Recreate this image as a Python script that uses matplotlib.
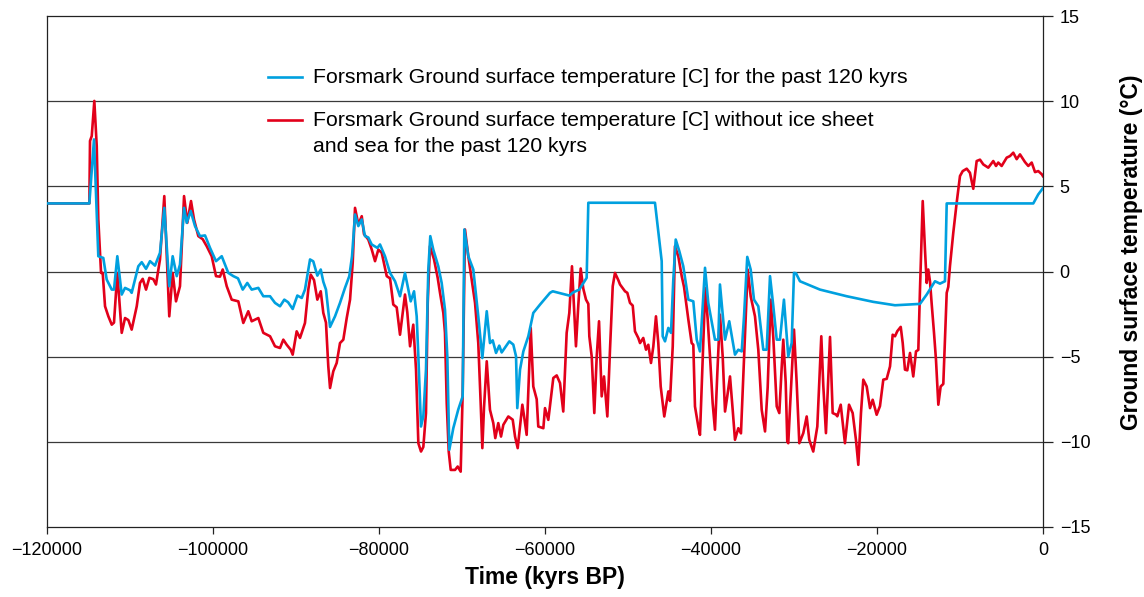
import matplotlib
matplotlib.use("Agg")
import matplotlib.pyplot as plt

# time (years BP, negative = past) and ground surface temperature [C]
# blue: with ice sheet and sea
time_gst = [-120000, -114900, -114340, -113820, -113220, -112810, -112200, -111930, -111530, -111000,
            -110600, -110000, -109800, -109000, -108590, -108070, -107590, -106990, -106390, -105870,
            -105270, -104860, -104370, -103980, -103490, -103170, -102690, -102170, -101570, -100960,
            -100360, -99640, -98950, -98160, -97550, -96990, -96420, -95870, -95340, -94540,
            -93940, -93130, -92530, -91930, -91410, -90960, -90400, -89840, -89310, -88920,
            -88310, -87920, -87430, -87020, -86710, -86390, -85900, -85300, -84700, -84100,
            -83580, -83250, -82890, -82490, -82080, -81690, -81290, -80880, -80200, -79880,
            -79280, -78670, -78070, -77470, -76870, -76470, -76180, -75780, -75460, -75260,
            -74940, -74660, -74340, -74060, -73820, -73460, -72860, -72450, -72050, -71770,
            -71530, -71050, -70450, -69920, -69720, -69240, -68640, -68040, -67550, -67020,
            -66630, -66300, -65900, -65510, -65220, -64300, -63820, -63490, -63340, -63010,
            -62610, -62010, -61410, -60600, -59400, -59070, -57070, -56590, -55870, -54980,
            -54780, -46750, -45940, -45820, -45540, -45140, -44820, -44540, -44250, -43820,
            -43340, -42730, -42130, -41720, -41330, -40720, -40330, -39520, -39120, -38920,
            -38310, -37800, -37110, -36710, -36300, -36020, -35630, -35220, -34820, -34300,
            -33700, -33290, -32890, -32490, -32080, -31690, -31210, -30690, -30280, -30000,
            -29760, -29280, -26870, -23650, -20450, -17830, -14820, -14010, -13010, -12410,
            -11810, -11600, -1170, -570, 0]
temp_gst = [4.0, 4.0, 7.76, 0.9, 0.8, -0.47, -1.06, -1.06, 0.9, -1.35,
            -0.96, -1.1, -1.25, 0.31, 0.55, 0.16, 0.61, 0.35, 1.1, 3.74,
            -0.86, 0.9, -0.27, 0.41, 3.74, 2.86, 3.55, 2.67, 2.08, 2.12,
            1.39, 0.61, 0.9, -0.08, -0.27, -0.4, -1.06, -0.67, -1.06, -0.96,
            -1.45, -1.45, -1.84, -2.04, -1.65, -1.8, -2.2, -1.41, -1.55, -1.06,
            0.71, 0.6, -0.24, 0.12, -0.6, -1.06, -3.25, -2.63, -1.84, -0.96,
            -0.27, 0.9, 3.35, 2.67, 3.06, 2.08, 2.0, 1.59, 1.39, 1.59,
            0.9, -0.08, -0.57, -1.45, -0.08, -1.06, -1.75, -1.16, -2.63, -4.98,
            -9.1, -8.5, -5.76, 0.12, 2.08, 1.29, 0.31, -0.67, -2.24, -4.98,
            -10.47, -9.2, -8.1, -7.33, 2.47, 0.9, 0.12, -2.63, -5.08, -2.33,
            -4.2, -4.04, -4.78, -4.35, -4.75, -4.1, -4.29, -4.98, -8.02, -5.76,
            -4.69, -3.8, -2.43, -1.94, -1.25, -1.16, -1.41, -1.22, -1.06, -0.37,
            4.04, 4.04, 0.61, -3.8, -4.1, -3.31, -3.6, -0.47, 1.88, 1.2,
            0.31, -1.65, -1.75, -4.0, -4.69, 0.22, -1.84, -4.0, -4.0, -0.76,
            -4.0, -2.92, -4.88, -4.59, -4.69, -2.63, 0.86, 0.12, -1.65, -2.04,
            -4.59, -4.59, -0.27, -2.04, -4.0, -4.0, -1.65, -4.98, -4.2, -0.08,
            -0.1, -0.57, -1.06, -1.45, -1.78, -1.98, -1.9, -1.35, -0.57, -0.71,
            -0.57, 4.0, 4.0, 4.53, 4.9]

# red: without ice sheet and sea
time_nosheet = [-120000, -114900, -114820, -114610, -114300, -114010, -113820, -113490, -113290, -113010,
                -112610, -112200, -111930, -111530, -111000, -110600, -110200, -109800, -109190, -108800,
                -108470, -108070, -107670, -107190, -106870, -106390, -105870, -105270, -104860, -104460,
                -103980, -103490, -103100, -102650, -102290, -101770, -101240, -100760, -100160, -99640,
                -99160, -98830, -98350, -97750, -96950, -96350, -95750, -95340, -94540, -93940,
                -93130, -92530, -91930, -91530, -91120, -90640, -90400, -89920, -89520, -88920,
                -88520, -88230, -87830, -87430, -87020, -86710, -86390, -86110, -85900, -85510,
                -85100, -84700, -84300, -83890, -83490, -83170, -82890, -82490, -82080, -81810,
                -81290, -80880, -80480, -80080, -79670, -79070, -78670, -78280, -77870, -77470,
                -76870, -76590, -76260, -75870, -75540, -75260, -74940, -74660, -74340, -74130,
                -73860, -73370, -72930, -72650, -72250, -72050, -71840, -71600, -71360, -70840,
                -70520, -70160, -69920, -69640, -69240, -68830, -68430, -68040, -67750, -67550,
                -67350, -67020, -66630, -66230, -65990, -65630, -65300, -65020, -64420, -63890,
                -63610, -63290, -63010, -62730, -62490, -62210, -61720, -61410, -61000, -60810,
                -60200, -60000, -59600, -59000, -58590, -58190, -57800, -57390, -57070, -56750,
                -56510, -56270, -55990, -55700, -55390, -55060, -54780, -54660, -54370, -54060,
                -53770, -53490, -53170, -52890, -52490, -52170, -51840, -51570, -51170, -50960,
                -50360, -50080, -49760, -49430, -49160, -48760, -48550, -48160, -47830, -47550,
                -47230, -46950, -46630, -46350, -46060, -45630, -45140, -44940, -44610, -44340,
                -43940, -43530, -43250, -42730, -42330, -42130, -41930, -41530, -41330, -41050,
                -40690, -40400, -40120, -39800, -39520, -39240, -38920, -38590, -38310, -38040,
                -37710, -37390, -37110, -36710, -36390, -36110, -35780, -35580, -35220, -34700,
                -34300, -33890, -33490, -33170, -32810, -32490, -32080, -31770, -31480, -31290,
                -31000, -30810, -30690, -30480, -30000, -29680, -29360, -29280, -28880, -28470,
                -28160, -27680, -27190, -26710, -26470, -26150, -25660, -25340, -24940, -24780,
                -24370, -23860, -23370, -22930, -22530, -22250, -21930, -21650, -21240, -20840,
                -20520, -20040, -19640, -19240, -18830, -18430, -18110, -17830, -17550, -17140,
                -16900, -16630, -16350, -16020, -15630, -15300, -15020, -14820, -14490, -14220,
                -14010, -13820, -13610, -13410, -13130, -12890, -12610, -12330, -12010, -11810,
                -11600, -11410, -11210, -10810, -10400, -10000, -9670, -9190, -8800, -8400,
                -7990, -7590, -7190, -6590, -5990, -5660, -5390, -4980, -4370, -3980,
                -3580, -3170, -2770, -2170, -1770, -1360, -960, -570, -140, 0]
temp_nosheet = [4.0, 4.0, 7.67, 7.96, 10.02, 7.37, 3.06, -0.08, -0.08, -2.04,
                -2.63, -3.12, -3.0, -0.08, -3.6, -2.73, -2.85, -3.41, -2.04, -0.67,
                -0.43, -1.06, -0.37, -0.45, -0.76, 0.71, 4.43, -2.63, -0.08, -1.75,
                -0.86, 4.43, 2.86, 4.14, 3.06, 2.08, 1.9, 1.49, 0.9, -0.27,
                -0.3, 0.12, -0.86, -1.65, -1.75, -3.02, -2.33, -2.92, -2.73, -3.6,
                -3.8, -4.39, -4.49, -4.0, -4.3, -4.59, -4.88, -3.51, -3.9, -3.02,
                -1.06, -0.18, -0.5, -1.65, -1.16, -2.43, -3.0, -5.57, -6.84, -5.86,
                -5.37, -4.2, -4.0, -2.73, -1.65, 0.51, 3.74, 2.76, 3.25, 2.2,
                1.88, 1.3, 0.61, 1.29, 1.1, -0.27, -0.4, -1.94, -2.1, -3.71,
                -1.35, -2.4, -4.39, -3.12, -5.76, -10.08, -10.57, -10.3, -8.31, -1.84,
                1.49, 0.71, -0.37, -1.25, -2.43, -3.6, -7.73, -10.57, -11.65, -11.65,
                -11.45, -11.75, -7.14, 2.47, 0.9, -0.47, -1.84, -4.2, -7.73, -10.37,
                -8.0, -5.27, -8.12, -8.9, -9.78, -8.9, -9.69, -9.0, -8.51, -8.7,
                -9.69, -10.37, -9.1, -7.82, -8.6, -9.59, -3.31, -6.75, -7.5, -9.1,
                -9.2, -8.02, -8.71, -6.25, -6.1, -6.55, -8.22, -3.6, -2.43, 0.31,
                -2.0, -4.39, -2.0, 0.18, -1.0, -1.65, -1.9, -3.8, -5.0, -8.31,
                -5.0, -2.92, -7.33, -6.16, -8.51, -4.59, -0.86, -0.08, -0.5, -0.76,
                -1.16, -1.25, -1.84, -2.0, -3.51, -3.9, -4.2, -3.9, -4.59, -4.3,
                -5.37, -4.4, -2.63, -4.2, -6.75, -8.51, -7.04, -7.6, -4.39, 1.49,
                0.9, -0.27, -0.9, -2.82, -4.2, -4.3, -7.92, -9.1, -9.59, -5.76,
                -0.96, -2.8, -4.98, -7.73, -9.29, -6.0, -2.53, -5.0, -8.22, -7.33,
                -6.16, -8.1, -9.88, -9.2, -9.5, -6.16, -2.24, 0.12, -1.45, -2.63,
                -4.59, -8.12, -9.39, -6.8, -1.65, -3.9, -7.92, -8.31, -5.6, -4.0,
                -6.5, -9.98, -10.08, -8.0, -3.41, -6.5, -10.08, -9.98, -9.49, -8.51,
                -9.88, -10.57, -9.1, -3.8, -6.7, -9.49, -3.84, -8.31, -8.4, -8.5,
                -7.82, -10.08, -7.82, -8.31, -9.9, -11.35, -8.31, -6.35, -6.75, -8.02,
                -7.53, -8.41, -7.9, -6.35, -6.3, -5.57, -3.71, -3.8, -3.5, -3.25,
                -4.2, -5.76, -5.8, -4.78, -6.16, -4.69, -4.6, -1.06, 4.14, 1.3,
                -0.67, 0.12, -0.6, -1.9, -3.6, -5.2, -7.82, -6.75, -6.6, -4.0,
                -1.25, -0.9, 0.31, 2.27, 4.04, 5.61, 5.9, 6.04, 5.8, 4.86,
                6.49, 6.57, 6.29, 6.1, 6.49, 6.2, 6.4, 6.2, 6.69, 6.78,
                6.98, 6.6, 6.88, 6.43, 6.2, 6.4, 5.84, 5.9, 5.71, 5.6]

label_gst = "Forsmark Ground surface temperature [C] for the past 120 kyrs"
label_nosheet = ["Forsmark Ground surface temperature [C] without ice sheet",
                 "and sea for the past 120 kyrs"]
xticks = [-120000, -100000, -80000, -60000, -40000, -20000, 0]
yticks = [-15, -10, -5, 0, 5, 10, 15]

plt.rcParams['font.family'] = ['Liberation Sans', 'DejaVu Sans']

blue = "#00a0df"
red = "#e2001a"

fig = plt.figure(figsize=(11.44, 5.97), dpi=100)
ax = fig.add_axes([0.0411, 0.1173, 0.8706, 0.8557])

# horizontal grid lines only
for v in yticks[1:-1]:
    ax.axhline(v, color="#3a3a3a", lw=0.9, zorder=1)

ax.plot(time_nosheet, temp_nosheet, color=red, lw=1.9, zorder=2)
ax.plot(time_gst, temp_gst, color=blue, lw=1.9, zorder=3)

ax.set_xlim(-120000, 0)
ax.set_ylim(-15, 15)
ax.set_xticks(xticks)
ax.set_yticks(yticks)
ax.yaxis.tick_right()
ax.yaxis.set_label_position("right")
ax.tick_params(axis="both", direction="out", labelsize=13, width=0.9, color="#222222")
ax.tick_params(axis="x", length=5, pad=6)
ax.tick_params(axis="y", length=7, pad=5)
for s in ax.spines.values():
    s.set_linewidth(0.9)
    s.set_color("#222222")

ax.set_xlabel("Time (kyrs BP)", fontsize=16.5, fontweight="bold", labelpad=5)
ax.set_ylabel("Ground surface temperature (°C)", fontsize=16.5, fontweight="bold")
ax.yaxis.set_label_coords(1.077, 0.537)

# legend drawn by hand so the red handle sits on the first text line
ax.plot([0.2219, 0.256], [0.880, 0.880], color=blue, lw=1.9, transform=ax.transAxes)
ax.text(0.267, 0.880, label_gst, transform=ax.transAxes, fontsize=15.3, va="center")
ax.plot([0.2219, 0.256], [0.796, 0.796], color=red, lw=1.9, transform=ax.transAxes)
ax.text(0.267, 0.796, label_nosheet[0], transform=ax.transAxes, fontsize=15.3, va="center")
ax.text(0.267, 0.745, label_nosheet[1], transform=ax.transAxes, fontsize=15.3, va="center")

plt.savefig("out.png", dpi=100)
